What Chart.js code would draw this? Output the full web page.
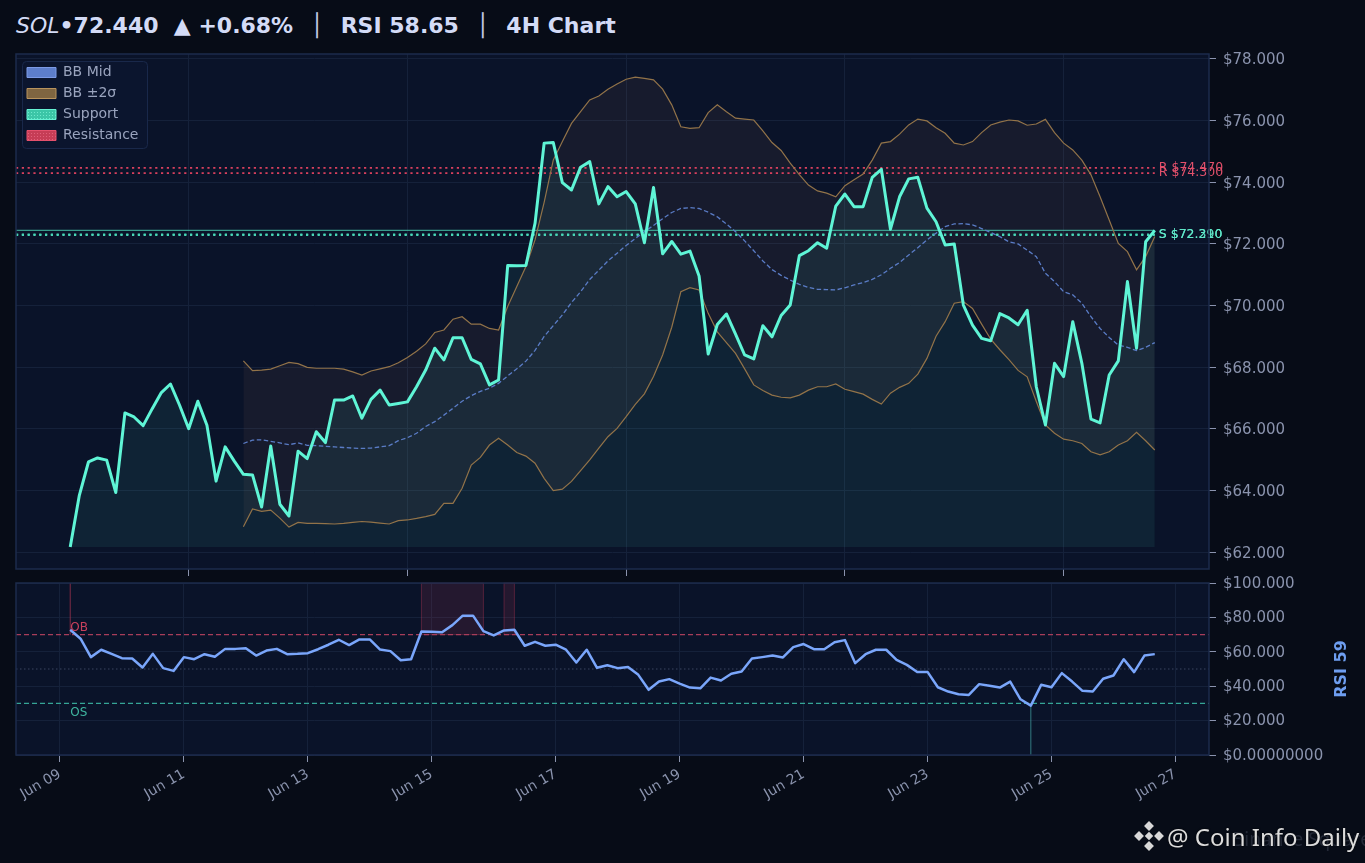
<!DOCTYPE html>
<html>
<head>
<meta charset="utf-8">
<script src="https://cdn.jsdelivr.net/npm/chart.js@4.4.1/dist/chart.umd.min.js"></script>
<style>
  html, body { margin: 0; padding: 0; background: #070c17; }
  #wrap { position: relative; width: 1365px; height: 863px; overflow: hidden; background: #070c17; }
  #title { position: absolute; left: 16px; top: 13px; font-family: 'DejaVu Sans'; font-size: 22px; line-height: 26px;
           color: #d3dbf6; font-weight: bold; white-space: pre; }
  #title .sym { font-style: italic; font-weight: normal; }
  #title .sep { font-weight: normal; color: #c2cae4; padding: 0 1.8px; }
  canvas { position: absolute; left: 0; }
  #priceChart { top: 0; }
  #rsiChart { top: 565px; }
  #wm { position: absolute; left: 1134px; top: 818px; height: 36px; display: flex; align-items: center;
        font-family: 'Noto Sans'; font-size: 24px; color: #dcdcdc; white-space: pre; text-shadow: 0 0 2px #000; }
  #wm svg { margin-right: 3px; }
  #wmBack { position: absolute; left: 1232px; top: 826px; font-family: 'Noto Sans'; font-size: 19px; color: rgba(110,120,140,0.28); white-space: pre; }
</style>
</head>
<body>
<div id="wrap">
  <div id="title"></div>
  <canvas id="priceChart" width="1365" height="600"></canvas>
  <canvas id="rsiChart" width="1365" height="298"></canvas>
  <div id="wmBack">Binance Square</div>
  <div id="wm"><svg width="30" height="30" viewBox="0 0 30 30"><g fill="#d8d8d8">
    <rect x="11.5" y="1.5" width="7" height="7" transform="rotate(45 15 5)"/>
    <rect x="11.5" y="21.5" width="7" height="7" transform="rotate(45 15 25)"/>
    <rect x="1.5" y="11.5" width="7" height="7" transform="rotate(45 5 15)"/>
    <rect x="21.5" y="11.5" width="7" height="7" transform="rotate(45 25 15)"/>
    <rect x="12" y="12" width="6" height="6" transform="rotate(45 15 15)"/>
  </g></svg><span>@ Coin Info Daily</span></div>
</div>
<script>
// 4H closes, first bar Jun 06 20:00
const price = [
  62.17, 63.85, 64.93, 65.06, 64.99, 63.94, 66.52, 66.39, 66.11, 66.66,
  67.18, 67.46, 66.77, 66.01, 66.90, 66.12, 64.31, 65.42, 64.96, 64.53,
  64.51, 63.47, 65.45, 63.56, 63.18, 65.28, 65.04, 65.91, 65.56, 66.94,
  66.94, 67.07, 66.35, 66.96, 67.26, 66.78, 66.83, 66.88, 67.37, 67.91,
  68.62, 68.24, 68.96, 68.96, 68.26, 68.11, 67.43, 67.59, 71.30, 71.29,
  71.30, 72.67, 75.27, 75.29, 73.99, 73.75, 74.49, 74.67, 73.30, 73.86,
  73.53, 73.70, 73.30, 72.04, 73.83, 71.68, 72.08, 71.67, 71.77, 70.96,
  68.43, 69.39, 69.73, 69.08, 68.40, 68.27, 69.35, 68.99, 69.68, 70.02,
  71.62, 71.78, 72.04, 71.86, 73.23, 73.62, 73.21, 73.21, 74.16, 74.42,
  72.48, 73.53, 74.11, 74.16, 73.16, 72.72, 71.97, 72.00, 70.02, 69.37,
  68.94, 68.86, 69.74, 69.60, 69.38, 69.85, 67.37, 66.13, 68.13, 67.70,
  69.48, 68.13, 66.32, 66.20, 67.75, 68.21, 70.78, 68.62, 72.07, 72.44
];
// Bollinger bands begin at bar 19
const bbStart = 19;
const bbUpper = [
  68.21, 67.89, 67.91, 67.94, 68.05, 68.16, 68.12, 68.00, 67.97, 67.97,
  67.97, 67.94, 67.85, 67.75, 67.88, 67.95, 68.02, 68.15, 68.32, 68.52,
  68.76, 69.13, 69.21, 69.56, 69.64, 69.40, 69.40, 69.26, 69.21, 69.97,
  70.62, 71.27, 72.13, 73.35, 74.72, 75.32, 75.91, 76.29, 76.67, 76.80,
  77.02, 77.19, 77.34, 77.41, 77.37, 77.32, 77.02, 76.51, 75.80, 75.75,
  75.77, 76.26, 76.51, 76.29, 76.08, 76.05, 76.02, 75.67, 75.29, 75.03,
  74.62, 74.25, 73.91, 73.72, 73.65, 73.53, 73.89, 74.08, 74.27, 74.72,
  75.27, 75.32, 75.56, 75.86, 76.05, 75.99, 75.77, 75.59, 75.27, 75.21,
  75.32, 75.61, 75.86, 75.95, 76.02, 75.99, 75.85, 75.89, 76.04, 75.61,
  75.27, 75.05, 74.72, 74.24, 73.53, 72.78, 72.02, 71.75, 71.16, 71.59,
  72.24
];
const bbMid = [
  65.53, 65.64, 65.65, 65.60, 65.55, 65.49, 65.55, 65.47, 65.46, 65.44,
  65.42, 65.40, 65.38, 65.37, 65.38, 65.42, 65.46, 65.62, 65.72, 65.86,
  66.08, 66.24, 66.45, 66.67, 66.90, 67.08, 67.22, 67.32, 67.48, 67.72,
  67.95, 68.20, 68.55, 69.00, 69.35, 69.70, 70.10, 70.45, 70.85, 71.15,
  71.45, 71.70, 71.95, 72.18, 72.40, 72.60, 72.82, 73.02, 73.15, 73.18,
  73.15, 73.03, 72.88, 72.65, 72.40, 72.10, 71.78, 71.45, 71.17, 70.98,
  70.83, 70.69, 70.59, 70.53, 70.52, 70.51, 70.58, 70.67, 70.75, 70.85,
  71.00, 71.21, 71.40, 71.64, 71.88, 72.13, 72.35, 72.56, 72.65, 72.66,
  72.62, 72.50, 72.37, 72.24, 72.07, 72.00, 71.80, 71.59, 71.05, 70.78,
  70.45, 70.35, 70.08, 69.64, 69.26, 68.97, 68.72, 68.65, 68.54, 68.65,
  68.80
];
const bbLower = [
  62.83, 63.41, 63.33, 63.37, 63.11, 62.82, 62.97, 62.94, 62.94, 62.93,
  62.92, 62.94, 62.97, 63.00, 62.98, 62.95, 62.92, 63.03, 63.05, 63.10,
  63.16, 63.23, 63.59, 63.59, 64.08, 64.83, 65.08, 65.48, 65.70, 65.48,
  65.24, 65.12, 64.89, 64.40, 64.00, 64.05, 64.30, 64.65, 65.00, 65.38,
  65.75, 66.02, 66.40, 66.80, 67.14, 67.70, 68.40, 69.30, 70.45, 70.58,
  70.51, 69.75, 69.15, 68.80, 68.45, 67.95, 67.43, 67.25, 67.10, 67.03,
  67.01, 67.10, 67.26, 67.37, 67.37, 67.46, 67.29, 67.21, 67.13, 66.96,
  66.81, 67.16, 67.35, 67.48, 67.78, 68.29, 69.01, 69.48, 70.08, 70.13,
  69.91, 69.40, 68.91, 68.57, 68.25, 67.90, 67.69, 66.89, 66.13, 65.86,
  65.67, 65.62, 65.53, 65.26, 65.16, 65.26, 65.48, 65.62, 65.89, 65.62,
  65.32
];
const supportLevels = [72.31, 72.29];
const resistanceLevels = [74.47, 74.30];
const priceTicks = [62, 64, 66, 68, 70, 72, 74, 76, 78];

// RSI(14), first value Jun 09 04:00
const rsi = [
  72.8, 67.6, 56.9, 61.2, 58.8, 56.3, 56.1, 50.9, 58.8, 50.5,
  48.9, 56.9, 55.7, 58.6, 57.1, 61.7, 61.7, 62.1, 57.8, 60.7,
  61.7, 58.6, 58.8, 59.2, 61.5, 64.1, 67.0, 63.9, 67.2, 67.2,
  61.3, 60.4, 55.1, 55.7, 71.8, 71.6, 71.4, 75.5, 81.0, 81.0,
  72.0, 69.5, 72.4, 72.8, 63.5, 65.8, 63.5, 64.1, 61.2, 53.8,
  61.2, 50.7, 52.2, 50.5, 51.1, 46.6, 37.9, 42.7, 44.1, 41.5,
  39.2, 38.8, 45.0, 43.3, 47.2, 48.5, 56.1, 56.9, 57.8, 56.7,
  62.7, 64.5, 61.5, 61.5, 65.6, 66.8, 53.4, 58.6, 61.2, 61.2,
  55.3, 52.4, 48.2, 48.3, 39.4, 36.9, 35.3, 34.9, 41.2, 40.2,
  39.2, 42.7, 32.4, 28.7, 40.8, 39.4, 47.6, 42.7, 37.3, 36.9,
  44.3, 46.2, 55.7, 48.2, 57.8, 58.65
];
const rsiTicks = [0, 20, 40, 60, 80, 100];
const rsiTickLabels = ['$0.00000000', '$20.000', '$40.000', '$60.000', '$80.000', '$100.000'];
const dateTicks = [0, 2, 4, 6, 8, 10, 12, 14, 16, 18];
const dateLabels = ['Jun 09', 'Jun 11', 'Jun 13', 'Jun 15', 'Jun 17', 'Jun 19', 'Jun 21', 'Jun 23', 'Jun 25', 'Jun 27'];
const priceGridDays = [0, 4, 8, 12, 16];
const changePct = '+0.68%';
const timeframe = '4H Chart';

// x in days from Jun 09 00:00
const priceX = i => (i * 4 - 52) / 24;
const rsiX = j => (4 + j * 4) / 24;
const lastPrice = price[price.length - 1];
const lastRsi = rsi[rsi.length - 1];

document.getElementById('title').innerHTML =
  '<span class="sym">SOL</span>•' + lastPrice.toFixed(3) + '  ▲ ' + changePct +
  '  <span class="sep">│</span>  RSI ' + lastRsi.toFixed(2) + '  <span class="sep">│</span>  ' + timeframe;

const FONT = 'DejaVu Sans';
const TICK_COLOR = '#8a93ad';
const GRID = '#15213a';
const LEGEND_TEXT = '#9aa4be';

// x margins like an autoscaled axis (5%)
const pSpan = priceX(price.length - 1) - priceX(0);
const pMinX = priceX(0) - pSpan * 0.05, pMaxX = priceX(price.length - 1) + pSpan * 0.05;
const rSpan = rsiX(rsi.length - 1) - rsiX(0);
const rMinX = rsiX(0) - rSpan * 0.05, rMaxX = rsiX(rsi.length - 1) + rSpan * 0.05;
const pMinY = 61.46, pMaxY = 78.16;

const band = arr => arr.map((v, k) => ({x: priceX(k + bbStart), y: v}));
const hline = (y, x0, x1) => [{x: x0, y: y}, {x: x1, y: y}];

function dots(bg, dot) {
  const c = document.createElement('canvas');
  c.width = 3; c.height = 3;
  const g = c.getContext('2d');
  g.fillStyle = bg; g.fillRect(0, 0, 3, 3);
  g.fillStyle = dot; g.fillRect(1, 1, 1, 1);
  return g.createPattern(c, 'repeat');
}

const panelPlugin = {
  id: 'panel',
  beforeDraw(chart) {
    const {ctx, chartArea: a} = chart;
    ctx.save();
    ctx.fillStyle = '#0a1329';
    ctx.fillRect(a.left, a.top, a.right - a.left, a.bottom - a.top);
    ctx.restore();
  },
  afterDraw(chart) {
    const {ctx, chartArea: a} = chart;
    ctx.save();
    ctx.strokeStyle = '#1c2b4c';
    ctx.lineWidth = 1.5;
    ctx.strokeRect(a.left, a.top, a.right - a.left, a.bottom - a.top);
    ctx.restore();
  }
};

const levelLabels = {
  id: 'levelLabels',
  afterLayout(chart) {
    // keep the legend in the top-left corner of the plot
    const L = chart.legend, a = chart.chartArea;
    L.left = a.left + 4; L.right = L.left + L.width;
    L.top = a.top + 4.5; L.bottom = L.top + L.height;
  },
  afterDatasetsDraw(chart) {
    const {ctx, chartArea: a, scales: {x, y}} = chart;
    // legend frame, then the legend on top of it
    ctx.save();
    ctx.fillStyle = '#0b152e';
    ctx.strokeStyle = '#19284a';
    ctx.lineWidth = 1;
    ctx.beginPath();
    ctx.roundRect(a.left + 6.5, a.top + 7.5, 125, 87, 4);
    ctx.fill(); ctx.stroke();
    ctx.restore();
    chart.legend.draw(a);
    // level labels
    ctx.save();
    ctx.font = '12.5px "' + FONT + '"';
    ctx.textBaseline = 'middle';
    ctx.textAlign = 'left';
    const xe = x.getPixelForValue(priceX(price.length - 1)) + 4;
    resistanceLevels.forEach(v => {
      ctx.fillStyle = '#e2506b';
      ctx.fillText('R $' + v.toFixed(3), xe, y.getPixelForValue(v));
    });
    supportLevels.forEach(v => {
      ctx.fillStyle = '#5fe8c9';
      ctx.fillText('S $' + v.toFixed(3), xe, y.getPixelForValue(v));
    });
    ctx.restore();
  }
};

new Chart(document.getElementById('priceChart'), {
  type: 'line',
  data: {
    datasets: [
      { label: 'Price', data: price.map((v, i) => ({x: priceX(i), y: v})), borderColor: '#5ff5d6', borderWidth: 3,
        borderJoinStyle: 'round', pointRadius: 0, fill: {value: Math.min(...price)}, backgroundColor: 'rgba(72,205,190,0.085)' },
      { label: 'BB Mid', data: band(bbMid), borderColor: '#5a7cc6', borderWidth: 1.3, borderDash: [4.5, 2.5], pointRadius: 0, fill: false },
      { label: 'BB Upper', data: band(bbUpper), borderColor: '#927349', borderWidth: 1.2, pointRadius: 0,
        fill: '+1', backgroundColor: 'rgba(205,150,100,0.065)' },
      { label: 'BB Lower', data: band(bbLower), borderColor: '#927349', borderWidth: 1.2, pointRadius: 0, fill: false },
      ...resistanceLevels.map(v => ({ label: 'R', data: hline(v, pMinX, priceX(price.length - 1)), borderColor: '#d9405e',
        borderWidth: 1.8, borderDash: [2.2, 3.6], pointRadius: 0, fill: false })),
      ...supportLevels.map(v => ({ label: 'S', data: hline(v, pMinX, priceX(price.length - 1)), borderColor: '#48d6b6',
        borderWidth: 1.8, borderDash: [2.2, 3.6], pointRadius: 0, fill: false })),
      { label: 'Last', data: hline(lastPrice, pMinX, priceX(price.length - 1)), borderColor: 'rgba(72,200,172,0.75)',
        borderWidth: 1.2, pointRadius: 0, fill: false }
    ]
  },
  options: {
    responsive: false, animation: false, devicePixelRatio: 1,
    layout: { padding: { left: 16, top: 54, right: 0, bottom: 0 } },
    scales: {
      x: { type: 'linear', min: pMinX, max: pMaxX,
        afterBuildTicks: s => { s.ticks = priceGridDays.map(v => ({value: v})); },
        afterFit: s => { s.height = 31; },
        ticks: { display: false },
        grid: { color: GRID, tickColor: TICK_COLOR, tickLength: 7, lineWidth: 1 },
        border: { display: false } },
      y: { position: 'right', min: pMinY, max: pMaxY,
        afterBuildTicks: s => { s.ticks = priceTicks.map(v => ({value: v})); },
        afterFit: s => { s.width = 156; },
        ticks: { color: TICK_COLOR, font: { family: FONT, size: 15 }, padding: 7, labelOffset: 1.5,
          callback: v => '$' + v.toFixed(3) },
        grid: { color: GRID, tickColor: TICK_COLOR, tickLength: 7, lineWidth: 1 },
        border: { display: false } }
    },
    plugins: {
      filler: { drawTime: 'beforeDatasetsDraw' },
      tooltip: { enabled: false },
      legend: {
        position: 'chartArea', align: 'start',
        labels: {
          boxWidth: 29, boxHeight: 10, padding: 7, color: LEGEND_TEXT, font: { family: FONT, size: 14 },
          generateLabels: () => [
            { text: 'BB Mid', fillStyle: '#5d7ecb', strokeStyle: '#7d9be6', lineWidth: 1, fontColor: LEGEND_TEXT },
            { text: 'BB ±2σ', fillStyle: '#7f6541', strokeStyle: '#b8935d', lineWidth: 1, fontColor: LEGEND_TEXT },
            { text: 'Support', fillStyle: dots('#3cc6a7', '#6ee8cc'), strokeStyle: '#66f2d4', lineWidth: 1, fontColor: LEGEND_TEXT },
            { text: 'Resistance', fillStyle: dots('#c63d56', '#e0607a'), strokeStyle: '#e4506c', lineWidth: 1, fontColor: LEGEND_TEXT }
          ]
        }
      }
    }
  },
  plugins: [panelPlugin, levelLabels]
});

const rsiExtras = {
  id: 'rsiExtras',
  beforeDatasetsDraw(chart) {
    const {ctx, scales: {x, y}} = chart;
    const runs = (test, lo, hi, fill, edge) => {
      let s = -1;
      for (let j = 0; j <= rsi.length; j++) {
        const on = j < rsi.length && test(rsi[j]);
        if (on && s < 0) s = j;
        if (!on && s >= 0) {
          const x0 = x.getPixelForValue(rsiX(s)), x1 = x.getPixelForValue(rsiX(j - 1));
          const y0 = y.getPixelForValue(hi), y1 = y.getPixelForValue(lo);
          ctx.save();
          ctx.fillStyle = fill; ctx.fillRect(x0, y0, x1 - x0, y1 - y0);
          ctx.strokeStyle = edge; ctx.lineWidth = 1; ctx.strokeRect(x0, y0, x1 - x0, y1 - y0);
          ctx.restore();
          s = -1;
        }
      }
    };
    runs(v => v > 70, 70, 100, 'rgba(190,55,85,0.15)', 'rgba(200,60,90,0.35)');
    runs(v => v < 30, 0, 30, 'rgba(60,190,170,0.15)', 'rgba(70,170,170,0.4)');
  },
  afterDraw(chart) {
    const {ctx, chartArea: a, scales: {x, y}} = chart;
    ctx.save();
    ctx.font = '12px "' + FONT + '"';
    ctx.textAlign = 'left';
    ctx.textBaseline = 'bottom';
    ctx.fillStyle = '#c8405c';
    ctx.fillText('OB', x.getPixelForValue(rsiX(0)), y.getPixelForValue(70) - 1);
    ctx.textBaseline = 'top';
    ctx.fillStyle = '#3fb6a0';
    ctx.fillText('OS', x.getPixelForValue(rsiX(0)), y.getPixelForValue(30) + 3);
    ctx.translate(chart.width - 23, (a.top + a.bottom) / 2);
    ctx.rotate(-Math.PI / 2);
    ctx.textAlign = 'center';
    ctx.textBaseline = 'middle';
    ctx.font = 'bold 16px "' + FONT + '"';
    ctx.fillStyle = '#6e9ef0';
    ctx.fillText('RSI ' + Math.round(lastRsi), 0, 0);
    ctx.restore();
  }
};

new Chart(document.getElementById('rsiChart'), {
  type: 'line',
  data: {
    datasets: [
      { label: 'RSI', data: rsi.map((v, j) => ({x: rsiX(j), y: v})), borderColor: '#7aa6fb', borderWidth: 2.5,
        borderJoinStyle: 'round', pointRadius: 0, fill: false },
      { label: 'OB', data: hline(70, rMinX, rMaxX), borderColor: '#a83d5a', borderWidth: 1.2, borderDash: [5, 3], pointRadius: 0 },
      { label: 'OS', data: hline(30, rMinX, rMaxX), borderColor: '#35a596', borderWidth: 1.2, borderDash: [5, 3], pointRadius: 0 },
      { label: 'Mid', data: hline(50, rMinX, rMaxX), borderColor: '#3a4560', borderWidth: 1, borderDash: [1.5, 2.5], pointRadius: 0 }
    ]
  },
  options: {
    responsive: false, animation: false, devicePixelRatio: 1,
    layout: { padding: { left: 16, top: 18, right: 0, bottom: 0 } },
    scales: {
      x: { type: 'linear', min: rMinX, max: rMaxX,
        afterBuildTicks: s => { s.ticks = dateTicks.map(v => ({value: v})); },
        afterFit: s => { s.height = 108; },
        ticks: { color: TICK_COLOR, font: { family: FONT, size: 14 }, padding: 4, autoSkip: false,
          minRotation: 30, maxRotation: 30, callback: (v, i) => dateLabels[i] },
        grid: { color: GRID, tickColor: TICK_COLOR, tickLength: 7, lineWidth: 1 },
        border: { display: false } },
      y: { position: 'right', min: 0, max: 100,
        afterBuildTicks: s => { s.ticks = rsiTicks.map(v => ({value: v})); },
        afterFit: s => { s.width = 156; },
        ticks: { color: TICK_COLOR, font: { family: FONT, size: 15 }, padding: 7, labelOffset: 1,
          callback: (v, i) => rsiTickLabels[i] },
        grid: { color: GRID, tickColor: TICK_COLOR, tickLength: 7, lineWidth: 1 },
        border: { display: false } }
    },
    plugins: { legend: { display: false }, tooltip: { enabled: false } }
  },
  plugins: [panelPlugin, rsiExtras]
});
</script>
</body>
</html>
